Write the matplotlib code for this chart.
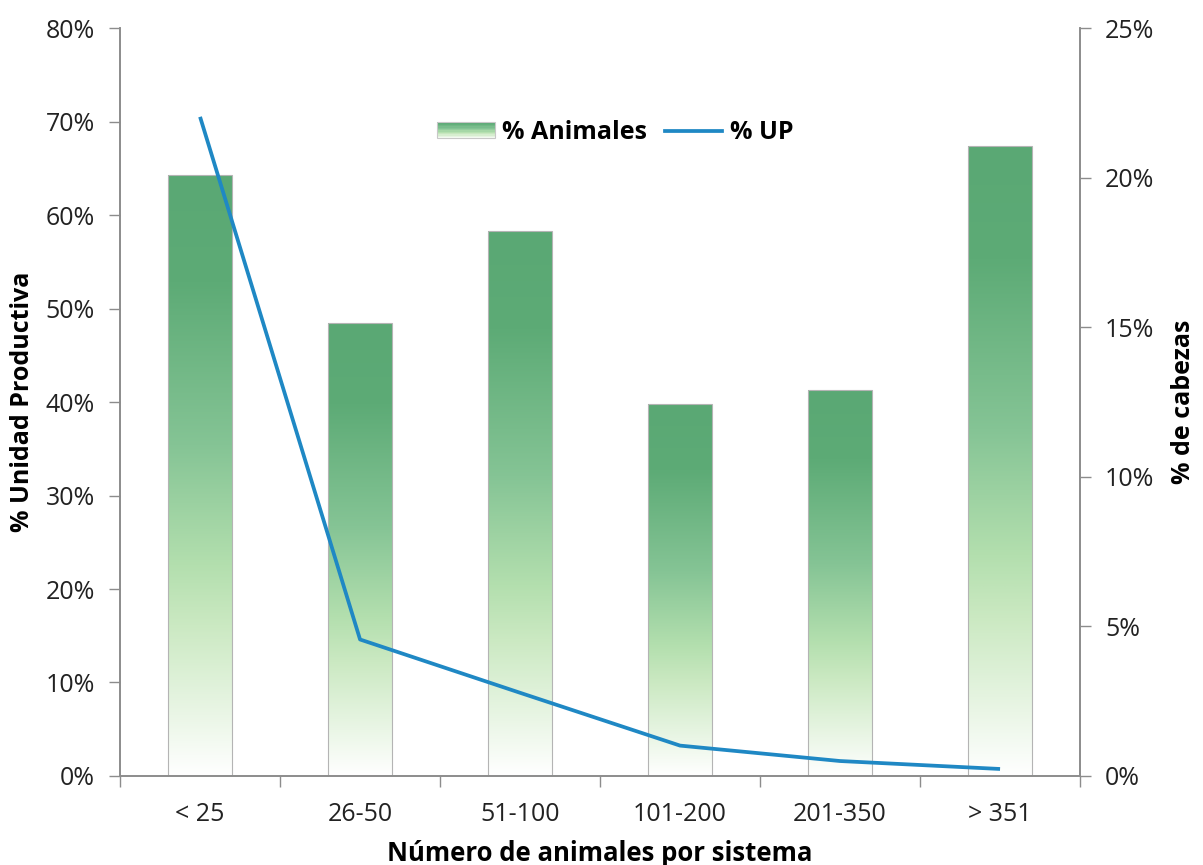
import numpy as np
import matplotlib
matplotlib.use('Agg')
import matplotlib.pyplot as plt
from matplotlib.colors import LinearSegmentedColormap
from matplotlib.patches import Rectangle
from matplotlib.legend_handler import HandlerBase
from matplotlib.ticker import FuncFormatter, FixedLocator, NullFormatter

plt.rcParams['font.family'] = ['Open Sans', 'DejaVu Sans']

categories = ['< 25', '26-50', '51-100', '101-200', '201-350', '> 351']
pct_animales = [20.1, 15.15, 18.2, 12.45, 12.9, 21.05]   # right axis, % de cabezas
pct_up = [70.5, 14.6, 8.9, 3.25, 1.6, 0.75]              # left axis, % Unidad Productiva

GREEN = LinearSegmentedColormap.from_list('bar_grad', [
    (0.0, '#5aa874'), (0.18, '#5dab76'), (0.45, '#85c495'),
    (0.65, '#b3dfae'), (0.75, '#cbe9c2'), (0.9, '#eaf6e6'), (1.0, '#ffffff')])
LINE = '#1f88c4'
AXIS = '#8c8c8c'
TXT = '#222222'


class GradientHandler(HandlerBase):
    def create_artists(self, legend, orig_handle, xdescent, ydescent,
                       width, height, fontsize, trans):
        n = 12
        arts = []
        for i in range(n):
            c = GREEN(0.15 + 0.8 * i / (n - 1))
            y = height - (i + 1) * height / n
            arts.append(Rectangle((-xdescent, -ydescent + y), width, height / n,
                                  facecolor=c, edgecolor='none', transform=trans))
        arts.append(Rectangle((-xdescent, -ydescent), width, height, facecolor='none',
                              edgecolor='#c8c8c8', lw=0.8, transform=trans))
        return arts


fig = plt.figure(figsize=(12.03, 8.65), dpi=100)
ax = fig.add_axes([0.0998, 0.1029, 0.798, 0.8647])
ax2 = ax.twinx()

x = np.arange(len(categories))

# bars on the right axis with vertical gradient
bars = ax2.bar(x, pct_animales, width=0.4, color='none', edgecolor='#b4b4b4', lw=0.8, zorder=2)
grad = np.linspace(0, 1, 256).reshape(-1, 1)
for b in bars:
    bx, by = b.get_x(), b.get_y()
    im = ax2.imshow(grad, cmap=GREEN, aspect='auto', origin='upper',
                    extent=[bx, bx + b.get_width(), by, by + b.get_height()], zorder=1)
    im.set_clip_path(b)
ax2.set_xlim(-0.5, len(categories) - 0.5)
ax2.set_ylim(0, 25)

# line on the left axis, kept above the bars
ax.set_zorder(ax2.get_zorder() + 1)
ax.patch.set_visible(False)
ax.plot(x, pct_up, color=LINE, lw=2.7, solid_capstyle='butt')
ax.set_xlim(-0.5, len(categories) - 0.5)
ax.set_ylim(0, 80)

pct = FuncFormatter(lambda v, p: f'{v:.0f}%')
ax.set_yticks(np.arange(0, 81, 10))
ax.yaxis.set_major_formatter(pct)
ax2.set_yticks(np.arange(0, 26, 5))
ax2.yaxis.set_major_formatter(pct)

ax.xaxis.set_major_locator(FixedLocator(np.arange(-0.5, len(categories), 1.0)))
ax.xaxis.set_major_formatter(NullFormatter())
ax.xaxis.set_minor_locator(FixedLocator(x))
ax.set_xticklabels(categories, minor=True)
ax.tick_params(axis='x', which='major', length=8, color=AXIS, width=1, direction='out')
ax.tick_params(axis='x', which='minor', length=0, labelsize=18, pad=19, labelcolor=TXT)
ax.tick_params(axis='y', length=8, color=AXIS, width=1, labelsize=18, pad=10, labelcolor=TXT)
ax2.tick_params(axis='y', length=8, color=AXIS, width=1, labelsize=18, pad=10, labelcolor=TXT)
ax2.tick_params(axis='x', length=0, labelbottom=False)

for a in (ax, ax2):
    a.spines['top'].set_visible(False)
    for s in ('left', 'right', 'bottom'):
        a.spines[s].set_color(AXIS)
        a.spines[s].set_linewidth(1.2)

ax.set_ylabel('% Unidad Productiva', fontsize=18, fontweight='bold', labelpad=8)
ax2.set_ylabel('% de cabezas', fontsize=18, fontweight='bold', labelpad=12)
ax.set_xlabel('Número de animales por sistema', fontsize=18.5, fontweight='bold', labelpad=9)

leg_bar = Rectangle((0, 0), 1, 1)
leg_line, = ax.plot([], [], color=LINE, lw=2.7)
ax.legend([leg_bar, leg_line], ['% Animales', '% UP'],
          handler_map={Rectangle: GradientHandler()},
          loc='center', bbox_to_anchor=(0.516, 0.86), ncol=2, frameon=False,
          prop={'weight': 'bold', 'size': 18}, handlelength=2.3, handleheight=0.6,
          handletextpad=0.3, columnspacing=0.7)

fig.savefig('out.png', dpi=100)
